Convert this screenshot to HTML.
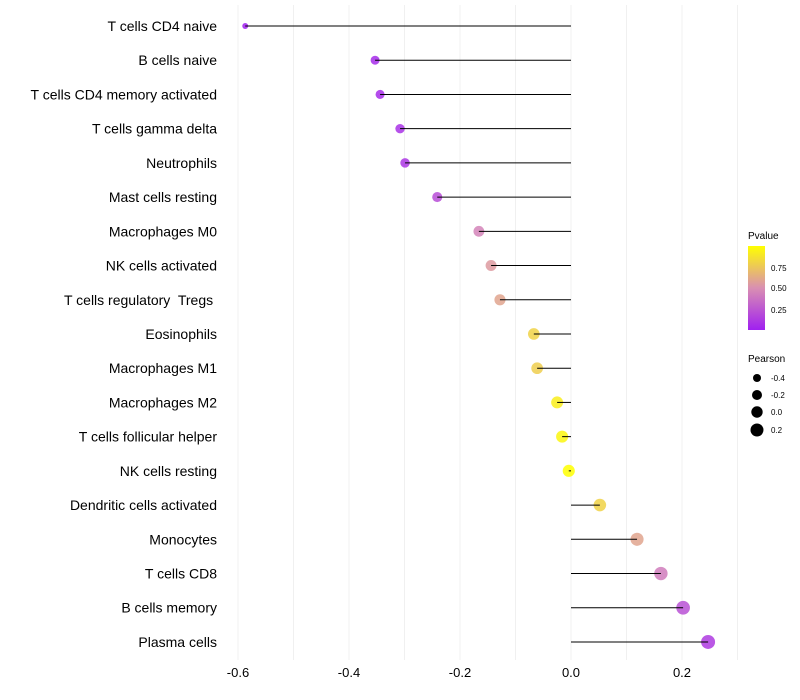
<!DOCTYPE html>
<html><head><meta charset="utf-8"><style>
body{margin:0;background:#fff;}
svg{display:block;font-family:"Liberation Sans",sans-serif;}
</style></head><body>
<svg id="c" width="800" height="700">
<defs><linearGradient id="pg" x1="0" y1="1" x2="0" y2="0">
<stop offset="0" stop-color="#a020f0"/><stop offset="0.5" stop-color="#d98fb2"/><stop offset="1" stop-color="#ffff00"/>
</linearGradient></defs>
<g id="grid"></g><g id="points"></g><g id="marks"></g><g id="labels"></g>
<g>
<text x="748" y="239" font-size="10">Pvalue</text>
<rect x="748" y="246" width="17" height="84" fill="url(#pg)"/>
<text x="771" y="271" font-size="8">0.75</text>
<text x="771" y="291" font-size="8">0.50</text>
<text x="771" y="313" font-size="8">0.25</text>
</g>
<g>
<text x="748" y="362" font-size="10">Pearson</text>
<circle cx="757" cy="378" r="4"/><text x="771" y="381" font-size="8">-0.4</text>
<circle cx="757" cy="395" r="5"/><text x="771" y="398" font-size="8">-0.2</text>
<circle cx="757" cy="412" r="5.7"/><text x="771" y="415" font-size="8">0.0</text>
<circle cx="757" cy="430" r="6.5"/><text x="771" y="433" font-size="8">0.2</text>
</g>
</svg>
<script>
const categories=["T cells CD4 naive","B cells naive","T cells CD4 memory activated","T cells gamma delta","Neutrophils","Mast cells resting","Macrophages M0","NK cells activated","T cells regulatory  Tregs ","Eosinophils","Macrophages M1","Macrophages M2","T cells follicular helper","NK cells resting","Dendritic cells activated","Monocytes","T cells CD8","B cells memory","Plasma cells"];
const pearson=[-0.587,-0.353,-0.344,-0.308,-0.299,-0.241,-0.166,-0.144,-0.128,-0.067,-0.061,-0.025,-0.016,-0.004,0.052,0.119,0.162,0.202,0.247];
const pvalue=[0.0,0.05,0.06,0.08,0.1,0.2,0.45,0.55,0.6,0.8,0.78,0.92,0.96,1.0,0.8,0.6,0.42,0.22,0.12];
const xTicks=[-0.6,-0.4,-0.2,0.0,0.2];
const NS="http://www.w3.org/2000/svg";
const x=v=>571+v*555;
const y=i=>26+i*34.22;
const r=v=>Math.sqrt(Math.max(2,37+48*v));
function lerp(a,b,t){return a.map((c,k)=>Math.round(c+(b[k]-c)*t));}
function col(p){const A=[160,32,240],B=[217,143,178],C=[255,255,0];
 const c=p<0.5?lerp(A,B,p/0.5):lerp(B,C,(p-0.5)/0.5);return `rgb(${c.join(',')})`;}
function mk(tag,at,parent){const e=document.createElementNS(NS,tag);for(const k in at)e.setAttribute(k,at[k]);document.getElementById(parent).appendChild(e);return e;}
for(let t=-0.6;t<=0.31;t+=0.1){const g=mk('line',{x1:x(t),x2:x(t),y1:5,y2:660,stroke:'#f0f0f0','stroke-width':1},'grid');

}
xTicks.forEach(t=>{const e=mk('text',{x:x(t),y:677,'font-size':13,'text-anchor':'middle'},'labels');e.textContent=t.toFixed(1);

});
categories.forEach((c,i)=>{
 const l=mk('line',{x1:x(0),x2:x(pearson[i]),y1:y(i),y2:y(i),stroke:'#000','stroke-width':1},'marks');
 
 
 const p=mk('circle',{cx:x(pearson[i]),cy:y(i),r:r(pearson[i]),fill:col(pvalue[i]),'fill-opacity':0.85},'points');
 
 
 const t=mk('text',{x:217,y:y(i)+5,'font-size':14,'text-anchor':'end'},'labels');t.textContent=c;
 t.style.whiteSpace='pre';
 
 
});
</script>
</body></html>
